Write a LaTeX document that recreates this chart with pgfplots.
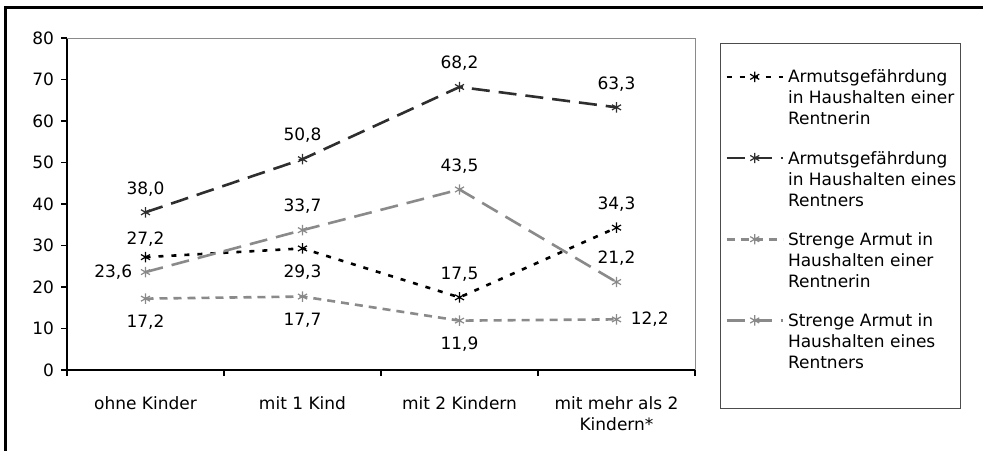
\documentclass[border=0pt]{standalone}
\usepackage{fontspec}
\setmainfont{DejaVu Sans}
\usepackage{pgfplots}
\pgfplotsset{compat=1.18}
\usepackage{pgfplotstable}

\definecolor{dunkel}{HTML}{2E2E2E}
\definecolor{grau}{HTML}{8A8A8A}

% x = Kategorie, y = Wert, lbl = Beschriftung
\pgfplotstableread{
x y lbl
0 27.2 27,2
1 29.3 29,3
2 17.5 17,5
3 34.3 34,3
}\rentnerinA
\pgfplotstableread{
x y lbl
0 38.0 38,0
1 50.8 50,8
2 68.2 68,2
3 63.3 63,3
}\rentnerA
\pgfplotstableread{
x y lbl
0 17.2 17,2
1 17.7 17,7
2 11.9 11,9
3 12.2 12,2
}\rentnerinS
\pgfplotstableread{
x y lbl
0 23.6 23,6
1 33.7 33,7
2 43.5 43,5
3 21.2 21,2
}\rentnerS

\newcommand\leg[3]{\smash{\begin{tabular}[t]{@{}l@{}}#1\\#2\\#3\end{tabular}}}

\tikzset{
    oben/.style={anchor=south, yshift=3pt},
    unten/.style={anchor=north, yshift=-3pt},
}
\pgfplotsset{
    % nur Beschriftungen, Lage als Argument
    lab/.style={
        forget plot, only marks, mark=*, mark size=0pt,
        mark options={draw=none, fill=none},
        nodes near coords,
        point meta=explicit symbolic,
        every node near coord/.append style={#1, text=black, inner sep=4.5pt,
            font=\fontsize{8.5}{10.5}\selectfont},
    },
    s1/.style={black, dash pattern=on 2.5pt off 4pt},
    s2/.style={dunkel, dash pattern=on 9pt off 4.5pt},
    s3/.style={grau, dash pattern=on 4pt off 3pt},
    s4/.style={grau, dash pattern=on 9pt off 4.5pt},
}

\begin{document}
\begin{tikzpicture}
\useasboundingbox (0,0) rectangle (491.5pt,-225pt);
% aeusserer Rahmen und Legendenrahmen
\draw[line width=1.5pt] (2.5pt,-240pt) -- (2.5pt,-3.5pt) -- (500pt,-3.5pt);
\draw[line width=0.5pt, black!70] (360pt,-21.5pt) rectangle (480pt,-204pt);

\begin{axis}[
    at={(33.5pt,-185pt)}, anchor=south west,
    scale only axis, width=314pt, height=166pt,
    font=\fontsize{8.5}{10.5}\selectfont,
    /pgf/number format/assume math mode=true,
    xmin=-0.5, xmax=3.5, ymin=0, ymax=80,
    ytick={0,10,...,80},
    xtick={0,1,2,3},
    xticklabels={ohne Kinder, mit 1 Kind, mit 2 Kindern, {mit mehr als 2\\Kindern*}},
    xticklabel style={align=center, yshift=-7pt},
    minor xtick={-0.5,0.5,1.5,2.5,3.5},
    axis x line*=bottom, axis y line*=left,
    axis line style={black, line width=0.6pt},
    tick align=outside, major tick length=3pt, minor tick length=3pt,
    tick style={black, line width=0.6pt},
    major x tick style={draw=none},
    clip=false,
    legend style={at={(1.0478,0.900)}, anchor=north west, draw=none, fill=none,
        inner sep=0pt, row sep=33.5pt, column sep=2pt,
        cells={anchor=base west},
        nodes={inner sep=0pt, font=\fontsize{8.5}{10.5}\selectfont}},
    legend image code/.code={
        \draw (0pt,3pt) -- (28pt,3pt);
        \draw[solid, line width=0.6pt] plot[mark=asterisk, mark size=2.6pt] coordinates {(14pt,3pt)};},
    every axis plot/.append style={line width=1.3pt,
        mark=asterisk, mark options={solid, line width=0.6pt}, mark size=2.6pt},
]
\draw[grau, line width=0.5pt] (rel axis cs:0,1) -- (rel axis cs:1,1) -- (rel axis cs:1,0);

% Linien mit Markierungen
\addplot[s1, forget plot] table[x=x, y=y] {\rentnerinA};
\addplot[s2, forget plot] table[x=x, y=y] {\rentnerA};
\addplot[s3, forget plot] table[x=x, y=y] {\rentnerinS};
\addplot[s4, forget plot] table[x=x, y=y] {\rentnerS};

% Datenbeschriftungen
\addplot[lab={anchor=south}, skip coords between index={1}{4}] table[x=x, y=y, meta=lbl] {\rentnerinA};
\addplot[lab=unten, skip coords between index={0}{1}, skip coords between index={2}{4}] table[x=x, y=y, meta=lbl] {\rentnerinA};
\addplot[lab=oben, skip coords between index={0}{2}] table[x=x, y=y, meta=lbl] {\rentnerinA};
\addplot[lab=oben] table[x=x, y=y, meta=lbl] {\rentnerA};
\addplot[lab=unten, skip coords between index={3}{4}] table[x=x, y=y, meta=lbl] {\rentnerinS};
\addplot[lab={anchor=west, xshift=2pt}, skip coords between index={0}{3}] table[x=x, y=y, meta=lbl] {\rentnerinS};
\addplot[lab={anchor=east, xshift=-1.5pt}, skip coords between index={1}{4}] table[x=x, y=y, meta=lbl] {\rentnerS};
\addplot[lab=oben, skip coords between index={0}{1}] table[x=x, y=y, meta=lbl] {\rentnerS};

\addlegendimage{s1, line width=1.3pt}
\addlegendentry{\leg{Armutsgefährdung}{in Haushalten einer}{Rentnerin}}
\addlegendimage{s2, line width=1.3pt}
\addlegendentry{\leg{Armutsgefährdung}{in Haushalten eines}{Rentners}}
\addlegendimage{s3, line width=1.3pt}
\addlegendentry{\leg{Strenge Armut in}{Haushalten einer}{Rentnerin}}
\addlegendimage{s4, line width=1.3pt}
\addlegendentry{\leg{Strenge Armut in}{Haushalten eines}{Rentners}}
\end{axis}
\end{tikzpicture}
\end{document}
